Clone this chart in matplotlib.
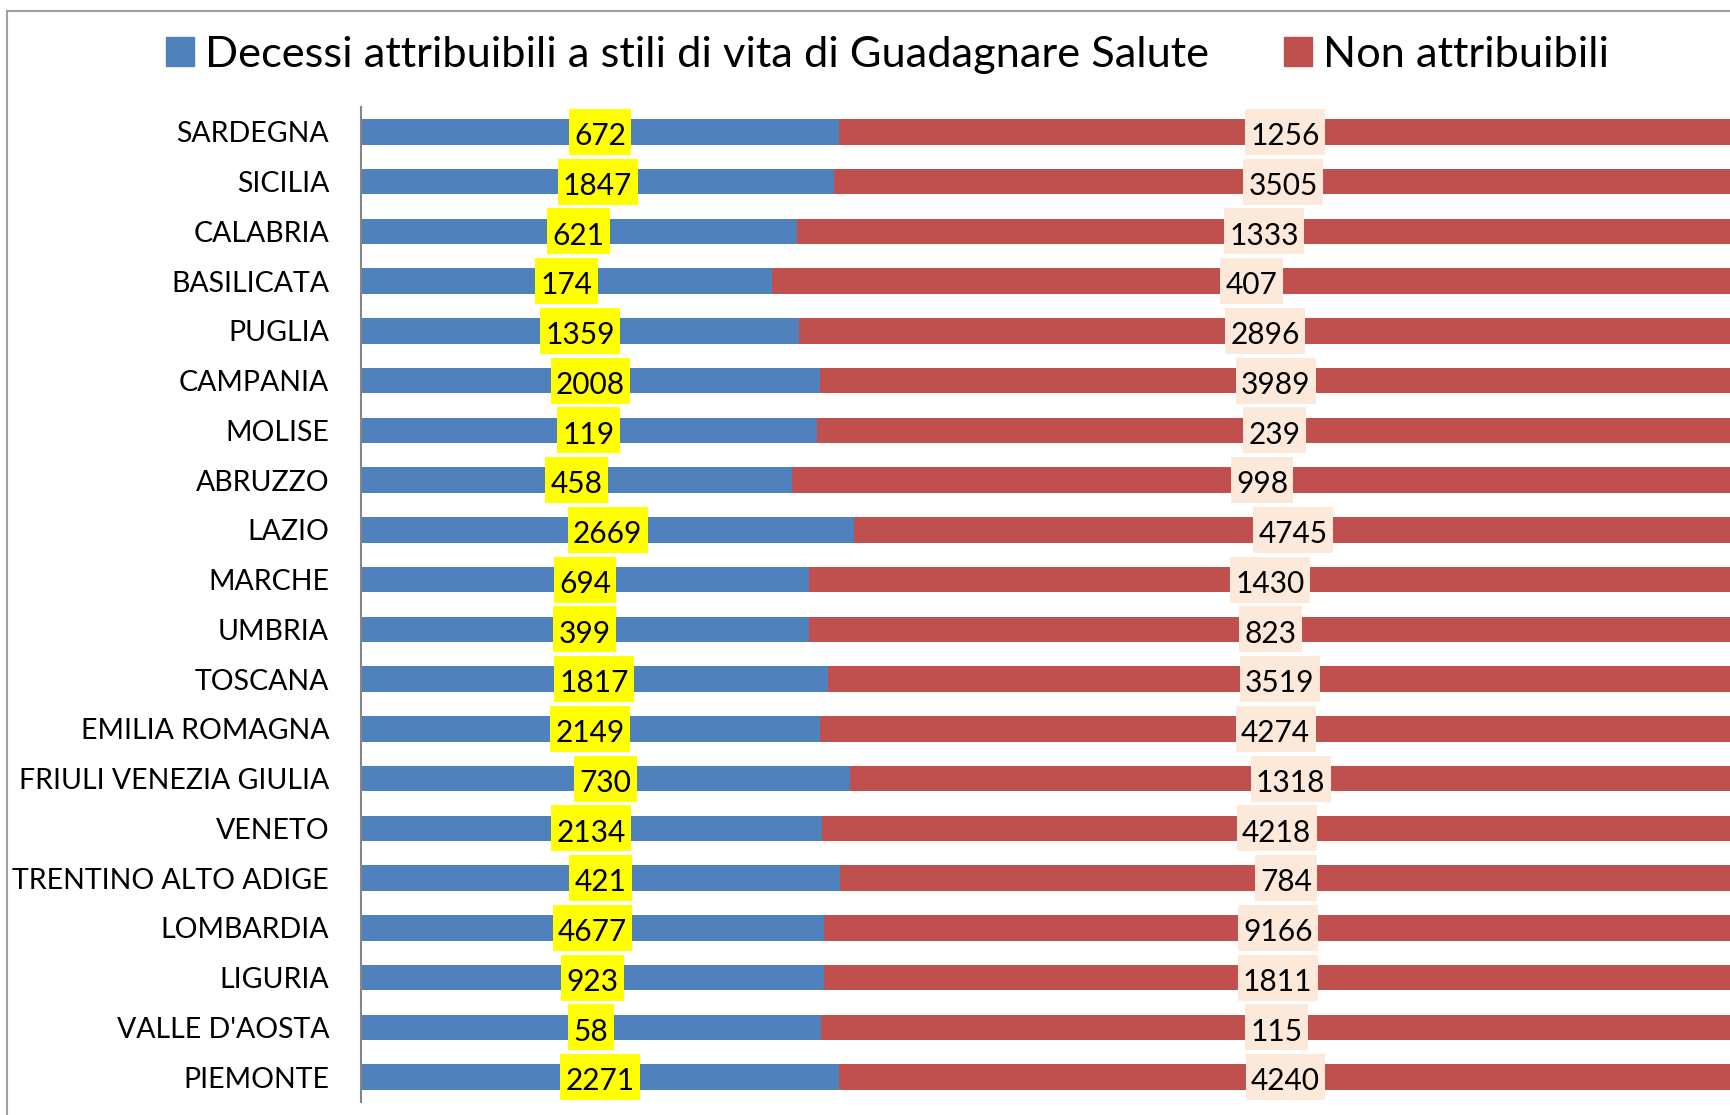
import matplotlib
matplotlib.use("Agg")
import matplotlib.pyplot as plt
from matplotlib.patches import Patch
from matplotlib.lines import Line2D
from matplotlib.path import Path
import numpy as np

plt.rcParams['font.family'] = ['Lato', 'DejaVu Sans']

regions = ["SARDEGNA", "SICILIA", "CALABRIA", "BASILICATA", "PUGLIA", "CAMPANIA",
           "MOLISE", "ABRUZZO", "LAZIO", "MARCHE", "UMBRIA", "TOSCANA",
           "EMILIA ROMAGNA", "FRIULI VENEZIA GIULIA", "VENETO", "TRENTINO ALTO ADIGE",
           "LOMBARDIA", "LIGURIA", "VALLE D'AOSTA", "PIEMONTE"]
attribuibili = [672, 1847, 621, 174, 1359, 2008, 119, 458, 2669, 694, 399, 1817,
                2149, 730, 2134, 421, 4677, 923, 58, 2271]
non_attribuibili = [1256, 3505, 1333, 407, 2896, 3989, 239, 998, 4745, 1430, 823, 3519,
                    4274, 1318, 4218, 784, 9166, 1811, 115, 4240]
series_names = ["Decessi attribuibili a stili di vita di Guadagnare Salute", "Non attribuibili"]

BLUE = "#4F81BD"
RED = "#C0504D"


def label_box(x0, y0, width, height, mutation_size):
    """Rectangle around a data label: narrow side pads, tall box centred on the bar."""
    padx = 0.18 * mutation_size
    cy = y0 + height / 2 + 0.14 * mutation_size
    hh = 0.77 * mutation_size
    verts = [(x0 - padx, cy - hh), (x0 + width + padx, cy - hh),
             (x0 + width + padx, cy + hh), (x0 - padx, cy + hh), (x0 - padx, cy - hh)]
    codes = [Path.MOVETO, Path.LINETO, Path.LINETO, Path.LINETO, Path.CLOSEPOLY]
    return Path(verts, codes)


a = np.array(attribuibili, float)
n = np.array(non_attribuibili, float)
tot = a + n
pa = a / tot
pn = n / tot

fig = plt.figure(figsize=(17.3, 11.15), dpi=100)
ax = fig.add_axes([361/1730, 1 - 1102/1115, 1 - 361/1730 + 0.001, (1102 - 107)/1115])

y = np.arange(len(regions))[::-1]  # first region on top
ax.barh(y, pa, height=0.51, color=BLUE)
ax.barh(y, pn, left=pa, height=0.51, color=RED)

for yi, v1, v2, p1, p2 in zip(y, attribuibili, non_attribuibili, pa, pn):
    ax.annotate(str(v1), (p1 / 2, yi), xytext=(0, -3), textcoords='offset points',
                ha='center', va='center', fontsize=21.5,
                bbox=dict(boxstyle=label_box, fc='#FFFF00', ec='none'))
    ax.annotate(str(v2), (p1 + p2 / 2, yi), xytext=(0, -3), textcoords='offset points',
                ha='center', va='center', fontsize=21.5,
                bbox=dict(boxstyle=label_box, fc='#FDE9D9', ec='none'))

ax.set_xlim(0, 1)
ax.set_ylim(-0.5, len(regions) - 0.5)
ax.set_yticks(y)
ax.set_yticklabels(regions, fontsize=20.5)
ax.tick_params(axis='y', length=0, pad=23)
ax.set_xticks([])
for s in ['top', 'right', 'bottom']:
    ax.spines[s].set_visible(False)
ax.spines['left'].set_color('#868686')
ax.spines['left'].set_linewidth(1.5)

handles = [Patch(color=BLUE), Patch(color=RED)]
fig.legend(handles, series_names, loc='center left', bbox_to_anchor=(166/1730, 0.9507),
           ncol=2, frameon=False, fontsize=31.2, handlelength=0.65, handleheight=0.65,
           handletextpad=0.25, columnspacing=1.72, borderpad=0, borderaxespad=0)

# outer chart border (partly visible)
fig.add_artist(Line2D([7/1730, 1], [1 - 11/1115, 1 - 11/1115], color='#A0A0A0', lw=1.5))
fig.add_artist(Line2D([7/1730, 7/1730], [0, 1 - 11/1115], color='#A0A0A0', lw=1.5))

fig.savefig("out.png", dpi=100, facecolor='white')
